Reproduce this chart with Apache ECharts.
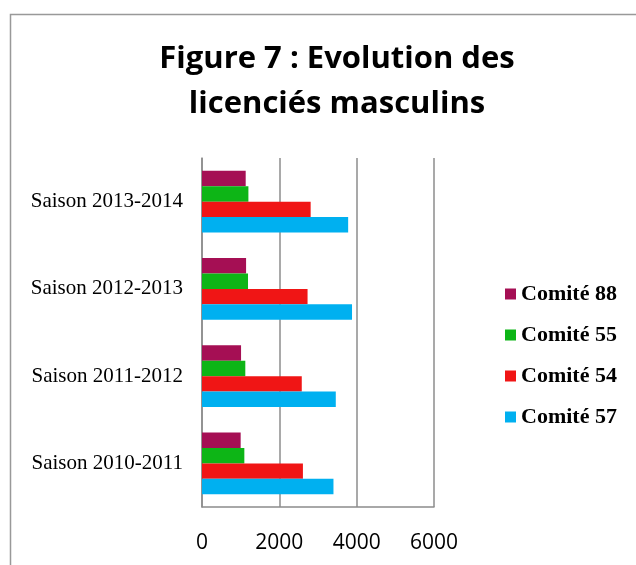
<!DOCTYPE html>
<html>
<head>
<meta charset="utf-8">
<script src="https://cdn.jsdelivr.net/npm/echarts@6/dist/echarts.min.js"></script>
<style>
  html, body { margin: 0; padding: 0; background: #fff; }
  #chart { width: 636px; height: 565px; }
</style>
</head>
<body>
<div id="chart"></div>
<script>
const seasons = ['Saison 2010-2011', 'Saison 2011-2012', 'Saison 2012-2013', 'Saison 2013-2014'];
const comite57 = [3400, 3460, 3880, 3780];
const comite54 = [2610, 2580, 2730, 2810];
const comite55 = [1095, 1120, 1190, 1200];
const comite88 = [1000, 1010, 1140, 1130];

const chart = echarts.init(document.getElementById('chart'));

const barSeries = (name, data, color) => ({
  name,
  type: 'bar',
  data,
  barGap: '0%',
  barCategoryGap: '29%',
  itemStyle: { color },
  emphasis: { disabled: true }
});

const option = {
  animation: false,
  title: {
    text: 'Figure 7 : Evolution des\nlicenciés masculins',
    left: 332,
    textAlign: 'center',
    top: 32,
    textStyle: {
      fontFamily: 'Open Sans',
      fontWeight: 'bold',
      fontSize: 31,
      lineHeight: 45,
      color: '#000'
    }
  },
  legend: {
    orient: 'vertical',
    left: 500,
    top: 278,
    itemWidth: 11,
    itemHeight: 11,
    itemGap: 19,
    icon: 'rect',
    textStyle: {
      fontFamily: 'Liberation Serif',
      fontWeight: 'bold',
      fontSize: 22,
      color: '#000'
    }
  },
  grid: { left: 202, right: 202, top: 158, bottom: 58 },
  xAxis: {
    type: 'value',
    min: 0,
    max: 6000,
    interval: 2000,
    axisLine: { show: true, lineStyle: { color: '#8c8c8c', width: 1.5 } },
    axisTick: { show: false },
    splitLine: { lineStyle: { color: '#8c8c8c', width: 1.5 } },
    axisLabel: {
      fontFamily: 'Open Sans',
      fontSize: 21,
      color: '#000',
      margin: 26,
      formatter: v => String(v)
    }
  },
  yAxis: {
    type: 'category',
    data: seasons,
    axisLine: { show: true, lineStyle: { color: '#8c8c8c', width: 1.5 } },
    axisTick: { show: false },
    axisLabel: {
      fontFamily: 'Liberation Serif',
      fontSize: 21,
      color: '#000',
      margin: 19
    }
  },
  graphic: [{
    type: 'rect',
    shape: { x: 10.5, y: 14.5, width: 700, height: 700 },
    style: { fill: null, stroke: '#999', lineWidth: 1.5 },
    silent: true
  }],
  series: [
    barSeries('Comité 88', comite88, '#A50F54'),
    barSeries('Comité 55', comite55, '#0DB516'),
    barSeries('Comité 54', comite54, '#F01515'),
    barSeries('Comité 57', comite57, '#00B0F0')
  ]
};

chart.setOption(option);
</script>
</body>
</html>
